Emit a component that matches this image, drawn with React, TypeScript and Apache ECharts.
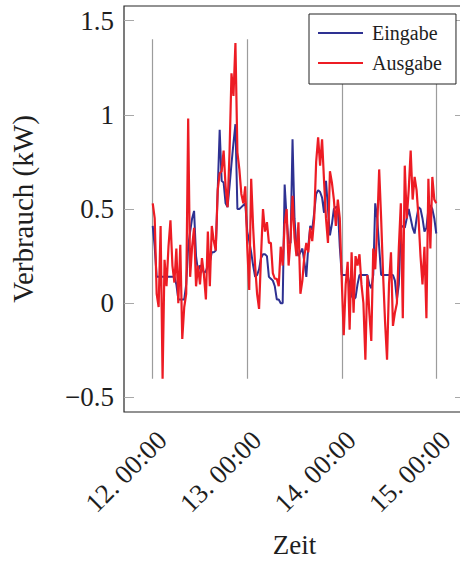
import React, { useEffect, useRef } from 'react';
import * as echarts from 'echarts';

const seriesNames = ['Eingabe', 'Ausgabe'];
const dayTicks = [12, 13, 14, 15];
const yTicks = [-0.5, 0, 0.5, 1, 1.5];
const startDay = 12;
const samplesPerDay = 48;
const dayLineRange = [-0.4, 1.4];

// Eingabe (blue), half-hourly from 12. 00:00 to 15. 00:00
const eingabe = [
  0.41, 0.30, 0.14, 0.14, 0.14, 0.14, 0.14, 0.14, 0.14, 0.14,
  0.14, 0.14, 0.10, 0.02, 0.02, 0.02, 0.02, 0.10, 0.30, 0.38,
  0.45, 0.49, 0.25, 0.17, 0.20, 0.19, 0.16, 0.17, 0.20, 0.22,
  0.27, 0.27, 0.28, 0.60, 0.92, 0.65, 0.64, 0.53, 0.51, 0.62,
  0.74, 0.85, 0.95, 0.50, 0.50, 0.51, 0.52, 0.53,
  0.38, 0.33, 0.27, 0.20, 0.14, 0.15, 0.18, 0.24, 0.26, 0.26,
  0.25, 0.14, 0.13, 0.12, 0.09, 0.02, 0.02, 0.00, 0.00, 0.63,
  0.45, 0.32, 0.32, 0.87, 0.45, 0.29, 0.25, 0.27, 0.29, 0.22,
  0.14, 0.30, 0.41, 0.39, 0.48, 0.58, 0.60, 0.59, 0.56, 0.48,
  0.65, 0.50, 0.36, 0.42, 0.50, 0.51, 0.51, 0.30,
  0.15, 0.15, 0.15, 0.15, 0.10, 0.04, 0.02, 0.03, 0.10, 0.15,
  0.15, 0.15, 0.15, 0.15, 0.10, 0.08, 0.15, 0.53, 0.45, 0.30,
  0.15, 0.15, 0.15, 0.15, 0.15, 0.15, 0.15, 0.12, 0.02, 0.10,
  0.40, 0.41, 0.40, 0.45, 0.50, 0.45, 0.40, 0.37, 0.45, 0.51,
  0.50, 0.45, 0.38, 0.40, 0.50, 0.52, 0.50, 0.45, 0.37,
];

// Ausgabe (red), half-hourly from 12. 00:00 to 15. 00:00
const ausgabe = [
  0.53, 0.45, 0.05, -0.02, 0.41, -0.40, 0.23, 0.09, 0.30, 0.44,
  0.20, 0.11, 0.29, 0.00, 0.31, -0.19, -0.02, 0.05, 0.98, 0.14,
  0.30, 0.40, 0.09, 0.20, 0.10, 0.24, 0.15, 0.02, 0.38, 0.09,
  0.41, 0.33, 0.28, 0.60, 0.69, 0.70, 0.81, 0.62, 0.51, 0.80,
  1.22, 1.10, 1.38, 0.80, 0.71, 0.58, 0.53, 0.62,
  0.30, 0.07, 0.66, 0.40, 0.20, 0.05, -0.03, 0.25, 0.50, 0.38,
  0.43, 0.32, 0.32, 0.16, 0.13, 0.13, 0.09, 0.30, 0.20, 0.42,
  0.50, 0.20, 0.34, 0.57, 0.35, 0.25, 0.43, 0.05, 0.12, 0.25,
  0.32, 0.27, 0.40, 0.33, 0.45, 0.75, 0.88, 0.73, 0.87, 0.65,
  0.45, 0.32, 0.70, 0.64, 0.55, 0.41, 0.55, 0.45,
  0.12, -0.17, 0.10, 0.22, -0.14, 0.27, -0.05, 0.25, 0.20, 0.26,
  0.10, 0.00, -0.30, 0.15, -0.05, -0.20, 0.29, 0.18, 0.40, 0.71,
  0.45, 0.15, -0.10, -0.30, 0.10, 0.27, -0.12, -0.05, 0.00, 0.30,
  0.53, -0.08, 0.73, 0.45, 0.60, 0.81, 0.55, 0.67, 0.60, 0.45,
  0.25, 0.10, 0.30, -0.08, 0.66, 0.29, 0.67, 0.55, 0.53,
];

const FONT = 'Liberation Serif';
const TEXT = '#1e1e1e';
const TICK = '#a8a8a8';

export default function App() {
  const ref = useRef<HTMLDivElement>(null);

  useEffect(() => {
    if (!ref.current) return;
    const chart = echarts.init(ref.current, null, { renderer: 'svg' });
    const toPairs = (arr: number[]) => arr.map((v, i) => [startDay + i / samplesPerDay, v]);

    const xMin = 11.696;
    const xMax = 15.304;
    const yMin = -0.577;
    const yMax = 1.577;

    const tickStyle = {
      show: true,
      inside: true,
      length: 10,
      lineStyle: { color: TICK, width: 1 },
    };

    const labelRich = {
      t: { fontFamily: FONT, fontSize: 27, lineHeight: 27, color: TEXT },
    };

    const option: any = {
      animation: false,
      backgroundColor: '#ffffff',
      textStyle: { fontFamily: FONT },
      grid: {
        left: 124,
        top: 6,
        width: 341,
        height: 407,
        show: true,
        borderColor: '#262626',
        borderWidth: 1.2,
        backgroundColor: 'transparent',
      },
      legend: {
        data: seriesNames,
        orient: 'vertical',
        left: 309,
        top: 14,
        icon: 'rect',
        backgroundColor: '#ffffff',
        borderColor: '#222222',
        borderWidth: 1,
        borderRadius: 0,
        padding: [9, 14, 11, 9],
        itemGap: 10,
        itemWidth: 45,
        itemHeight: 2,
        textStyle: {
          fontFamily: FONT,
          fontSize: 20,
          lineHeight: 20,
          color: TEXT,
          padding: [0, 0, 0, 4],
        },
      },
      xAxis: [
        {
          type: 'value',
          position: 'bottom',
          min: xMin,
          max: xMax,
          name: 'Zeit',
          nameLocation: 'middle',
          nameGap: 119,
          nameTextStyle: { fontFamily: FONT, fontSize: 27, color: TEXT },
          axisLine: { show: false },
          splitLine: { show: false },
          axisTick: { ...tickStyle, customValues: dayTicks },
          axisLabel: {
            customValues: dayTicks,
            rotate: 45,
            align: 'right',
            verticalAlign: 'top',
            margin: 14,
            fontFamily: FONT,
            fontSize: 27,
            lineHeight: 27,
            color: TEXT,
            rich: labelRich,
            formatter: (v: number) => `{t|${v}. 00:00}`,
          },
        },
        {
          type: 'value',
          position: 'top',
          min: xMin,
          max: xMax,
          axisLine: { show: false },
          splitLine: { show: false },
          axisTick: { ...tickStyle, customValues: dayTicks },
          axisLabel: { show: false },
        },
      ],
      yAxis: [
        {
          type: 'value',
          position: 'left',
          min: yMin,
          max: yMax,
          name: 'Verbrauch (kW)',
          nameLocation: 'middle',
          nameGap: 87,
          nameRotate: 90,
          nameTextStyle: { fontFamily: FONT, fontSize: 29, color: TEXT },
          axisLine: { show: false },
          splitLine: { show: false },
          axisTick: { ...tickStyle, customValues: yTicks },
          axisLabel: {
            customValues: yTicks,
            margin: 10,
            fontFamily: FONT,
            fontSize: 27,
            color: TEXT,
            rich: labelRich,
            formatter: (v: number) =>
              `{t|${v < 0 ? '\u2212' + String(Math.abs(v)) : String(v)}}`,
          },
        },
        {
          type: 'value',
          position: 'right',
          min: yMin,
          max: yMax,
          axisLine: { show: false },
          splitLine: { show: false },
          axisTick: { ...tickStyle, customValues: yTicks },
          axisLabel: { show: false },
        },
      ],
      series: [
        {
          type: 'lines',
          coordinateSystem: 'cartesian2d',
          xAxisIndex: 0,
          yAxisIndex: 0,
          silent: true,
          z: 1,
          lineStyle: { color: '#9c9c9c', width: 1.2, opacity: 1 },
          data: dayTicks.map((d) => ({ coords: [[d, dayLineRange[0]], [d, dayLineRange[1]]] })),
        },
        {
          name: seriesNames[0],
          type: 'line',
          xAxisIndex: 0,
          yAxisIndex: 0,
          data: toPairs(eingabe),
          symbol: 'none',
          showSymbol: false,
          z: 3,
          lineStyle: { color: '#2e3192', width: 2 },
          itemStyle: { color: '#2e3192' },
        },
        {
          name: seriesNames[1],
          type: 'line',
          xAxisIndex: 0,
          yAxisIndex: 0,
          data: toPairs(ausgabe),
          symbol: 'none',
          showSymbol: false,
          z: 4,
          lineStyle: { color: '#ed1c24', width: 2.2 },
          itemStyle: { color: '#ed1c24' },
        },
      ],
    };

    chart.setOption(option);
    return () => chart.dispose();
  }, []);

  return (
    <div
      style={{ position: 'absolute', left: 0, top: 0, width: 460, height: 563, overflow: 'hidden' }}
    >
      <div ref={ref} style={{ width: 472, height: 563 }} />
    </div>
  );
}
